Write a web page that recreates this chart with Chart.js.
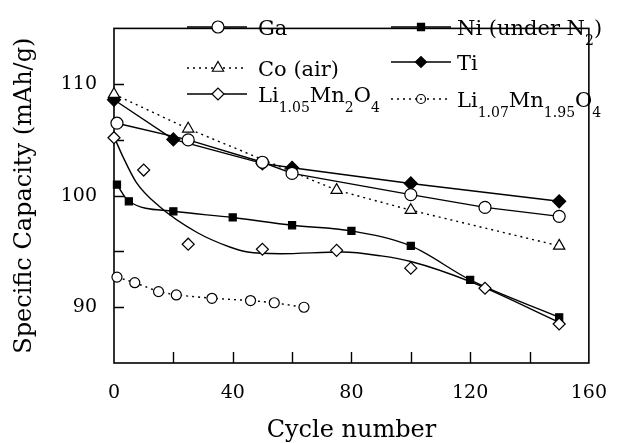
<!DOCTYPE html>
<html><head><meta charset="utf-8">
<script src="https://cdn.jsdelivr.net/npm/chart.js@4/dist/chart.umd.min.js"></script>
<style>html,body{margin:0;padding:0;background:#fff}#wrap{width:626px;height:443px}</style>
</head><body><div id="wrap"><canvas id="c" width="626" height="443"></canvas></div>
<script>
// ---- data ----
const xTitle = 'Cycle number';
const yTitle = 'Specific Capacity (mAh/g)';
const xTickLabels = [0, 40, 80, 120, 160];
const yTickLabels = [90, 100, 110];
const seriesNames = ['Ga', 'Co (air)', 'Li1.05Mn2O4', 'Ni (under N2)', 'Ti', 'Li1.07Mn1.95O4'];

const gaX = [1, 25, 50, 60, 100, 125, 150];
const gaY = [106.5, 105.0, 103.0, 102.0, 100.1, 98.95, 98.15];
const coX = [0, 25, 75, 100, 150];
const coY = [109.1, 106.0, 100.5, 98.7, 95.5];
const li105X = [0, 10, 25, 50, 75, 100, 125, 150];
const li105Y = [105.2, 102.3, 95.65, 95.2, 95.1, 93.5, 91.7, 88.5];
const li105FitX = [0, 3, 7.5, 15, 28, 39, 45, 56, 77, 90, 100, 120, 150];
const li105FitY = [105.3, 103.5, 101.2, 99.1, 96.7, 95.4, 94.95, 94.8, 94.95, 94.6, 94.1, 92.3, 88.65];
const niX = [1, 5, 20, 40, 60, 80, 100, 120, 150];
const niY = [101.0, 99.5, 98.6, 98.05, 97.35, 96.85, 95.5, 92.45, 89.1];
const tiX = [0, 20, 50, 60, 100, 150];
const tiY = [108.6, 105.05, 102.9, 102.5, 101.1, 99.5];
const li107X = [1, 7, 15, 21, 33, 46, 54, 64];
const li107Y = [92.7, 92.2, 91.4, 91.1, 90.8, 90.6, 90.4, 90.0];

// ---- helpers ----
const pts = (xs, ys) => xs.map((x, i) => ({x: x, y: ys[i]}));
const FONT = 'DejaVu Serif';
const LW = 1.4;
const base = {showLine: true, borderColor: '#000', borderWidth: LW, pointBorderColor: '#000',
  pointBorderWidth: 1.2, pointHoverRadius: 0, clip: false, tension: 0};

const datasets = [
  Object.assign({}, base, {label: seriesNames[0], data: pts(gaX, gaY), pointStyle: 'circle', pointRadius: 6, pointBackgroundColor: '#fff'}),
  Object.assign({}, base, {label: seriesNames[1], data: pts(coX, coY), borderDash: [2, 4], pointStyle: 'triangle', pointRadius: 6.5, pointBackgroundColor: '#fff'}),
  Object.assign({}, base, {label: seriesNames[2], data: pts(li105X, li105Y), showLine: false, pointStyle: 'rectRot', pointRadius: 6, pointBackgroundColor: '#fff'}),
  Object.assign({}, base, {label: seriesNames[2] + ' fit', data: pts(li105FitX, li105FitY), pointRadius: 0, cubicInterpolationMode: 'monotone'}),
  Object.assign({}, base, {label: seriesNames[3], data: pts(niX, niY), pointStyle: 'rect', pointRadius: 5, pointBackgroundColor: '#000', cubicInterpolationMode: 'monotone'}),
  Object.assign({}, base, {label: seriesNames[4], data: pts(tiX, tiY), pointStyle: 'rectRot', pointRadius: 6.5, pointBackgroundColor: '#000'}),
  Object.assign({}, base, {label: seriesNames[5], data: pts(li107X, li107Y), borderDash: [2, 4], pointStyle: 'circle', pointRadius: 5, pointBackgroundColor: '#fff'}),
  Object.assign({}, base, {label: seriesNames[5] + ' centre', data: pts(li107X, li107Y), showLine: false, pointStyle: 'circle', pointRadius: 0.9, pointBorderWidth: 0.5, pointBackgroundColor: '#000'})
];

// legend layout (style, not data)
const legendLayout = [
  {ds: 0, col: 0, y: 27, dash: false},
  {ds: 1, col: 0, y: 68, dash: true},
  {ds: 2, col: 0, y: 94, dash: false},
  {ds: 4, col: 1, y: 27, dash: false},
  {ds: 5, col: 1, y: 62, dash: false, r: 5.5},
  {ds: 6, col: 1, y: 99, dash: true, dot: true, r: 4.5}
];
const legendCols = [{x1: 187, x2: 247, mx: 218, tx: 258}, {x1: 391, x2: 451, mx: 421, tx: 457}];

function drawRich(ctx, text, x, y) {
  // digits following a letter are drawn as subscripts
  const parts = [];
  const re = /([A-Za-z])([0-9.]+)/g;
  let last = 0, m;
  while ((m = re.exec(text)) !== null) {
    parts.push([text.slice(last, m.index + 1), false]);
    parts.push([m[2], true]);
    last = m.index + m[0].length;
  }
  parts.push([text.slice(last), false]);
  ctx.textBaseline = 'alphabetic';
  ctx.textAlign = 'left';
  for (const [t, sub] of parts) {
    if (!t) continue;
    ctx.font = (sub ? '14px ' : '21px ') + FONT;
    ctx.fillText(t, x, sub ? y + 18 : y + 8);
    x += ctx.measureText(t).width;
  }
}

const decor = {
  id: 'decor',
  beforeDatasetsDraw(chart) {
    const ctx = chart.ctx, a = chart.chartArea;
    const xs = chart.scales.x, ys = chart.scales.y;
    ctx.save();
    ctx.strokeStyle = '#000';
    ctx.lineWidth = 1.6;
    ctx.strokeRect(a.left, a.top, a.right - a.left, a.bottom - a.top);
    ctx.lineWidth = 1.4;
    ctx.beginPath();
    xs.ticks.forEach(t => {
      if (t.value <= xs.min || t.value >= xs.max) return;
      const p = Math.round(xs.getPixelForValue(t.value)) + 0.5;
      ctx.moveTo(p, a.bottom); ctx.lineTo(p, a.bottom - 11);
    });
    ys.ticks.forEach(t => {
      if (t.value <= ys.min || t.value >= ys.max) return;
      const p = Math.round(ys.getPixelForValue(t.value)) + 0.5;
      ctx.moveTo(a.left, p); ctx.lineTo(a.left + 10, p);
    });
    ctx.stroke();
    ctx.restore();
  },
  afterDraw(chart) {
    const ctx = chart.ctx;
    ctx.save();
    ctx.fillStyle = '#000';
    legendLayout.forEach(item => {
      const c = legendCols[item.col];
      const ds = chart.data.datasets[item.ds];
      ctx.strokeStyle = '#000';
      ctx.lineWidth = LW;
      ctx.setLineDash(item.dash ? [2, 4] : []);
      ctx.beginPath();
      ctx.moveTo(c.x1, item.y); ctx.lineTo(c.x2, item.y);
      ctx.stroke();
      ctx.setLineDash([]);
      ctx.lineWidth = 1.2;
      ctx.fillStyle = ds.pointBackgroundColor;
      Chart.helpers.drawPoint(ctx, {pointStyle: ds.pointStyle, radius: item.r || ds.pointRadius, rotation: 0, borderWidth: 1.2}, c.mx, item.y);
      if (item.dot) {
        ctx.fillStyle = '#000';
        ctx.beginPath(); ctx.arc(c.mx, item.y, 0.9, 0, Math.PI * 2); ctx.fill();
      }
      ctx.fillStyle = '#000';
      drawRich(ctx, ds.label, c.tx, item.y);
    });
    ctx.restore();
  }
};

Chart.defaults.font.family = FONT;
Chart.defaults.color = '#000';

new Chart(document.getElementById('c'), {
  type: 'scatter',
  data: {datasets: datasets},
  plugins: [decor],
  options: {
    responsive: false,
    animation: false,
    devicePixelRatio: 1,
    layout: {padding: {top: 13, right: 21, left: 0, bottom: 0}},
    plugins: {legend: {display: false}, tooltip: {enabled: false}},
    scales: {
      x: {
        type: 'linear', min: 0, max: 160,
        grid: {display: false, drawTicks: false},
        border: {display: false},
        ticks: {stepSize: 20, padding: 19, font: {size: 19}, maxRotation: 0,
          callback: v => xTickLabels.includes(v) ? String(v) : ''},
        title: {display: true, text: xTitle, font: {size: 24, lineHeight: 1}, padding: {top: 0, bottom: 0}},
        afterFit: s => { s.height = 80; }
      },
      y: {
        type: 'linear', min: 85, max: 115,
        grid: {display: false, drawTicks: false},
        border: {display: false},
        ticks: {stepSize: 5, padding: 17, font: {size: 19},
          callback: v => yTickLabels.includes(v) ? String(v) : ''},
        title: {display: true, text: yTitle, font: {size: 24, lineHeight: 1}, padding: {top: 13, bottom: 0}},
        afterFit: s => { s.width = 114; }
      }
    }
  }
});
</script>
</body></html>
